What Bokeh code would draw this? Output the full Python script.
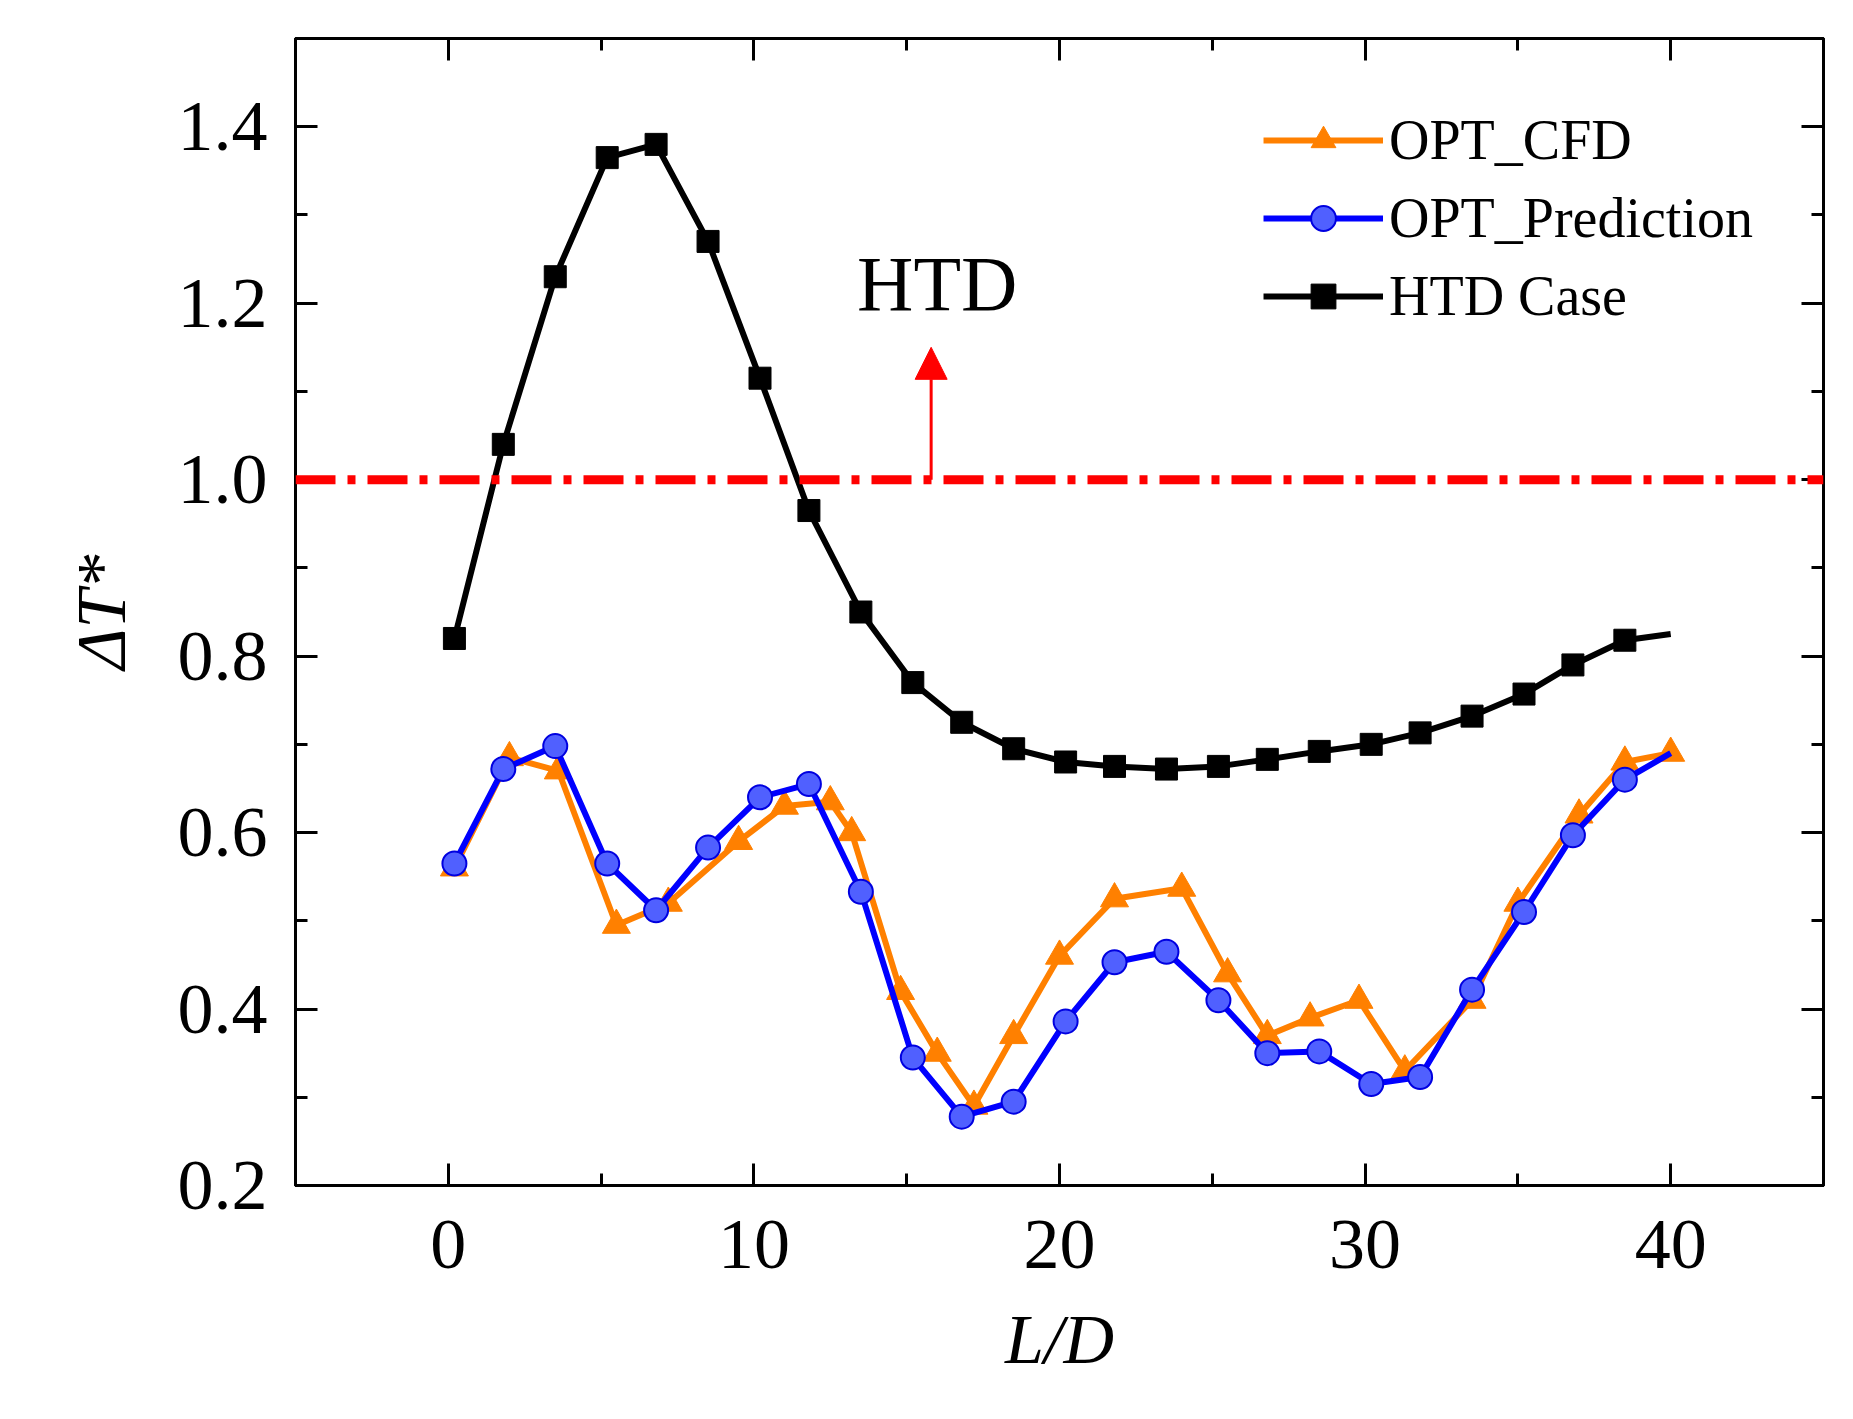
from bokeh.plotting import figure
from bokeh.models import LinearAxis, Range1d, Arrow, NormalHead, Span, Label, FixedTicker, Legend, LegendItem
from bokeh.embed import file_html
from bokeh.resources import INLINE

htd_x = [0.2,1.8,3.5,5.2,6.8,8.5,10.2,11.8,13.5,15.2,16.8,18.5,20.2,21.8,23.5,25.2,26.8,28.5,30.2,31.8,33.5,35.2,36.8,38.5]
htd_y = [0.82,1.04,1.23,1.365,1.38,1.27,1.115,0.965,0.85,0.77,0.725,0.695,0.68,0.675,0.672,0.675,0.683,0.692,0.70,0.713,0.732,0.757,0.79,0.818]
htd_line_x = htd_x + [40]
htd_line_y = htd_y + [0.825]

pred_x = [0.2,1.8,3.5,5.2,6.8,8.5,10.2,11.8,13.5,15.2,16.8,18.5,20.2,21.8,23.5,25.2,26.8,28.5,30.2,31.8,33.5,35.2,36.8,38.5]
pred_y = [0.565,0.672,0.698,0.565,0.512,0.583,0.64,0.655,0.533,0.345,0.278,0.295,0.386,0.453,0.465,0.41,0.35,0.352,0.315,0.323,0.422,0.51,0.597,0.66]
pred_line_x = pred_x + [40]
pred_line_y = pred_y + [0.69]

cfd_x = [0.2,2.0,3.6,5.5,7.2,9.5,11.0,12.5,13.2,14.8,16.0,17.2,18.5,20.0,21.8,24.0,25.5,26.8,28.2,29.8,31.3,33.5,35.0,37.0,38.5,40.0]
cfd_y = [0.56,0.685,0.67,0.495,0.52,0.59,0.63,0.635,0.60,0.42,0.35,0.29,0.37,0.46,0.525,0.537,0.44,0.37,0.39,0.41,0.33,0.41,0.52,0.62,0.68,0.69]

x_ticks = [0, 10, 20, 30, 40]
y_ticks = [0.2, 0.4, 0.6, 0.8, 1.0, 1.2, 1.4]
y_tick_labels = ["0.2", "0.4", "0.6", "0.8", "1.0", "1.2", "1.4"]

FONT = "Liberation Serif"
p = figure(width=1835, height=1400, output_backend="svg", toolbar_location=None,
           x_range=Range1d(-5, 45), y_range=Range1d(0.2, 1.5),
           min_border_left=295, min_border_right=12, min_border_top=38, min_border_bottom=215)
p.grid.visible = False
p.outline_line_color = "black"
p.outline_line_width = 3

def style(ax):
    ax.axis_line_width = 3
    ax.major_tick_in = 22
    ax.major_tick_out = 0
    ax.minor_tick_in = 12
    ax.minor_tick_out = 0
    ax.major_tick_line_width = 3
    ax.minor_tick_line_width = 3
    ax.major_label_text_font = FONT
    ax.major_label_text_font_size = "72px"
    ax.major_label_text_color = "black"
    ax.axis_label_text_font = FONT
    ax.axis_label_text_font_size = "70px"
    ax.axis_label_text_font_style = "italic"
    ax.axis_label_text_color = "black"

xt = FixedTicker(ticks=x_ticks, minor_ticks=[-5,0,5,10,15,20,25,30,35,40,45])
yt = FixedTicker(ticks=y_ticks, minor_ticks=[round(0.2+0.1*i,1) for i in range(14)])
p.xaxis.ticker = xt
p.yaxis.ticker = yt
p.xaxis.axis_label = "L/D"
p.yaxis.axis_label = "ΔT*"
style(p.xaxis[0]); style(p.yaxis[0])
p.yaxis.major_label_overrides = {t: s for t, s in zip(y_ticks, y_tick_labels)}
p.xaxis.major_label_standoff = 35
p.yaxis.major_label_standoff = 28
p.xaxis.axis_label_standoff = 30
p.yaxis.axis_label_standoff = 35
ra = LinearAxis(ticker=yt); style(ra); ra.major_label_overrides = {t: "" for t in y_ticks}; p.add_layout(ra, "right")
ta = LinearAxis(ticker=xt); style(ta); ta.major_label_overrides = {t: "" for t in x_ticks}; p.add_layout(ta, "above")

p.add_layout(Span(location=1.0, dimension="width", line_color="red", line_width=9, line_dash="40 12 8 12"))
p.add_layout(Arrow(end=NormalHead(size=32, fill_color="red", line_color="red"), x_start=15.8, y_start=1.0, x_end=15.8, y_end=1.15, line_color="red", line_width=3))
p.add_layout(Label(x=16.0, y=1.222, text="HTD", text_font=FONT, text_font_size="78px", text_color="black", text_align="center", text_baseline="middle"))

orange = "#ff8000"
l1 = p.line(cfd_x, cfd_y, line_color=orange, line_width=6)
m1 = p.scatter(cfd_x, cfd_y, marker="triangle", size=28, fill_color=orange, line_color=orange)
l2 = p.line(pred_line_x, pred_line_y, line_color="#0000ff", line_width=6)
m2 = p.scatter(pred_x, pred_y, marker="circle", size=24, fill_color="#5060ff", line_color="#0000e0", line_width=2)
l3 = p.line(htd_line_x, htd_line_y, line_color="black", line_width=6)
m3 = p.scatter(htd_x, htd_y, marker="square", size=22, fill_color="black", line_color="black")

leg = Legend(items=[LegendItem(label="OPT_CFD", renderers=[l1, m1]),
                    LegendItem(label="OPT_Prediction", renderers=[l2, m2]),
                    LegendItem(label="HTD Case", renderers=[l3, m3])],
             location="top_right", border_line_color=None, background_fill_alpha=0,
             label_text_font=FONT, label_text_font_size="56px", label_text_color="black",
             glyph_width=120, glyph_height=62, label_standoff=6, spacing=14, padding=0)
leg.margin = 70
p.add_layout(leg)

open("out.html", "w").write(file_html(p, INLINE))
